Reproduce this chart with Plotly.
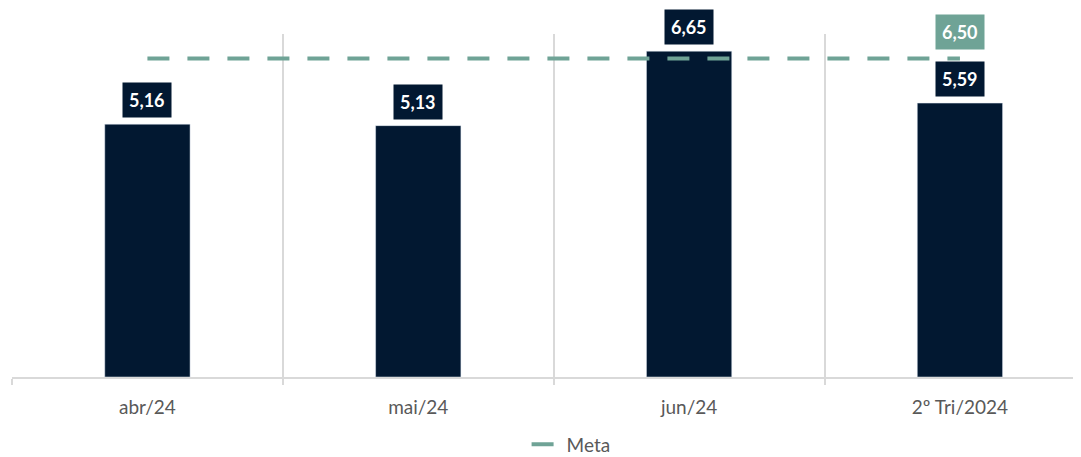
import plotly.graph_objects as go

categories = ['abr/24', 'mai/24', 'jun/24', '2º Tri/2024']
values = [5.16, 5.13, 6.65, 5.59]
meta = [6.50, 6.50, 6.50, 6.50]

bar_color = '#021831'
meta_color = '#6fa396'

fig = go.Figure()
fig.add_trace(go.Bar(x=categories, y=values, marker_color=bar_color, width=0.315,
                     showlegend=False, hoverinfo='skip'))
fig.add_trace(go.Scatter(x=categories, y=meta, mode='lines', name='Meta',
                         line=dict(color=meta_color, width=4, dash='22px,18px')))

# labels in boxes above the bars
for c, v in zip(categories, values):
    fig.add_annotation(x=c, y=v, text='<b>' + ('%.2f' % v).replace('.', ',') + '</b>',
                       showarrow=False, yanchor='middle', yshift=24,
                       bgcolor=bar_color, borderpad=6,
                       font=dict(color='white', size=18, family='Lato'))
fig.add_annotation(x=categories[-1], y=meta[-1],
                   text='<b>' + ('%.2f' % meta[-1]).replace('.', ',') + '</b>',
                   showarrow=False, yanchor='middle', yshift=27,
                   bgcolor=meta_color, borderpad=6,
                   font=dict(color='white', size=18, family='Lato'))

# the page has an 8px body margin, so the figure is sized to fit inside it
fig.update_layout(
    width=1073, height=449,
    margin=dict(l=4, r=0, t=26, b=80, autoexpand=False),
    plot_bgcolor='white', paper_bgcolor='white',
    font=dict(family='Lato', color='#595959', size=19),
    legend=dict(orientation='h', x=0.523, xanchor='center', y=0.028, yanchor='middle',
                yref='container', font=dict(size=19, color='#595959')),
)
fig.update_xaxes(range=[-0.5, 3.447], tickson='boundaries', showgrid=True,
                 gridcolor='#d9d9d9', gridwidth=2, ticks='outside', ticklen=6,
                 tickcolor='#d9d9d9', tickwidth=2, showline=True, linecolor='#d9d9d9',
                 linewidth=2, automargin=False, ticklabelstandoff=12,
                 tickfont=dict(size=19, color='#595959'))
fig.update_yaxes(range=[0, 7], visible=False, automargin=False)

fig.write_html('out.html')
